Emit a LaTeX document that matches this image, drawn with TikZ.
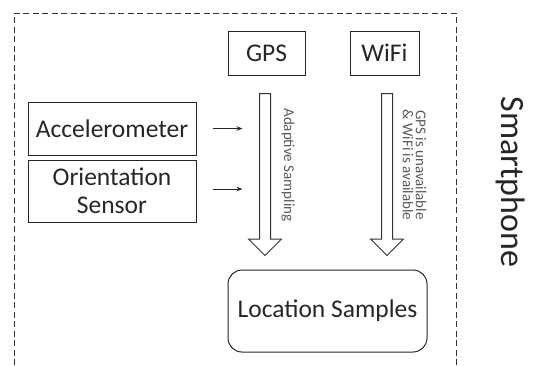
\documentclass[tikz,border=0pt]{standalone}
\usepackage{fontspec}
\setmainfont{Carlito}
\usetikzlibrary{arrows.meta,shapes.arrows}
\tikzset{
  unitbox/.style={draw=black!85, line width=1pt, text=black!85, font=\fontsize{25.5}{28}\selectfont, align=center, inner sep=0pt},
  blockarrow/.style={draw=black!80, line width=1pt, single arrow, rotate=-90, anchor=tail, inner xsep=0pt, inner ysep=5pt, minimum width=32pt, minimum height=162pt, single arrow head extend=11pt, single arrow tip angle=90},
  feedarrow/.style={draw=black!85, line width=1pt, -{Stealth[length=6pt,width=4.5pt]}},
  sidelabel/.style={text=black!65, font=\fontsize{15}{13}\selectfont, rotate=-90, align=center, inner sep=0pt},
}
\begin{document}
\begin{tikzpicture}[x=1pt,y=-1pt]
\useasboundingbox (0,0) rectangle (535,365);
% phone border
\draw[black!80, line width=1pt, dash pattern=on 6pt off 3.5pt] (14,365) -- (14,13) -- (456,13) -- (456,365);
\node[black!85, font=\fontsize{34}{34}\selectfont, rotate=-90] (phone) at (511,182) {Smartphone};

% sources
\node[unitbox, minimum width=77pt, minimum height=44pt] (gps) at (266.5,53) {GPS};
\node[unitbox, minimum width=69pt, minimum height=44pt] (wifi) at (384.5,53) {WiFi};
\node[unitbox, minimum width=168pt, minimum height=53pt] (accel) at (112,128.5) {Accelerometer};
\node[unitbox, minimum width=168pt, minimum height=62pt] (orient) at (112,191) {Orientation\\Sensor};

% samples
\node[unitbox, rounded corners=14pt, minimum width=199pt, minimum height=82pt] (samples) at (327.5,311) {Location Samples};

% block arrows
\node[blockarrow] (gpsarrow) at (265,93) {};
\node[blockarrow] (wifiarrow) at (387,93) {};
\node[sidelabel] (adapt) at (288,165) {Adaptive Sampling};
\node[sidelabel] (fallback) at (414.5,165) {GPS is unavailable\\\& WiFi is available};

% sensor inputs
\draw[feedarrow] ([xshift=16pt]accel.east) -- ++(30pt,0);
\draw[feedarrow] ([xshift=16pt,yshift=2pt]orient.east) -- ++(30pt,0);
\end{tikzpicture}
\end{document}
